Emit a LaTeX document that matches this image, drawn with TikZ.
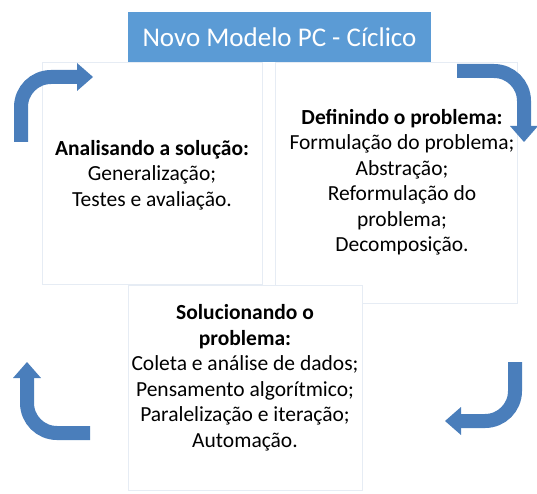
\documentclass[tikz,border=0pt]{standalone}
\usepackage{fontspec}
\setmainfont{Carlito}
\usetikzlibrary{arrows.meta}
\definecolor{titleblue}{HTML}{5B9BD5}
\definecolor{arrowblue}{HTML}{4A7EBB}
\definecolor{boxline}{HTML}{E6ECF4}
\begin{document}
\begin{tikzpicture}[x=1pt, y=-1pt,
		caixa/.style={rectangle, draw=boxline, line width=1pt, fill=white, anchor=north west, inner sep=0pt},
		texto/.style={align=center, inner sep=0pt, font=\fontsize{21.5}{25.5}\selectfont},
		seta/.style={draw=arrowblue, line width=14pt, rounded corners=30pt, -{Triangle[width=28pt, length=16pt, line width=0pt]}}]
		\useasboundingbox (0,0) rectangle (537,494);
		
		% Boxes
		\node[caixa, minimum width=220pt, minimum height=222pt] (analisa) at (42,62) {};
		\node[caixa, minimum width=242pt, minimum height=241pt] (define) at (275,62) {};
		\node[caixa, minimum width=234pt, minimum height=205pt] (soluciona) at (128,285) {};
		\node[rectangle, fill=titleblue, text=white, minimum width=303pt, minimum height=50pt, font=\fontsize{27}{30}\selectfont] (titulo) at (279.5,37) {Novo Modelo PC - Cíclico};
		
		% Texts
		\node[texto] (analisa-txt) at (152,175) {\textbf{Analisando a solução:}\\Generalização;\\Testes e avaliação.};
		\node[texto] (define-txt) at (402,182) {\textbf{Definindo o problema:}\\Formulação do problema;\\Abstração;\\Reformulação do\\problema;\\Decomposição.};
		\node[texto] (soluciona-txt) at (245,378) {\textbf{Solucionando o}\\\textbf{problema:}\\Coleta e análise de dados;\\Pensamento algorítmico;\\Paralelização e iteração;\\Automação.};
		
		% Arrows
		\coordinate (s1a) at (21,142);
		\coordinate (s1b) at (93,77);
		\coordinate (s2a) at (457,71);
		\coordinate (s2b) at (524,142);
		\coordinate (s3a) at (515,362);
		\coordinate (s3b) at (445,421);
		\coordinate (s4a) at (90,433);
		\coordinate (s4b) at (27,362);
		\draw[seta] (s1a) |- (s1b);
		\draw[seta] (s2a) -| (s2b);
		\draw[seta] (s3a) |- (s3b);
		\draw[seta] (s4a) -| (s4b);
		
	\end{tikzpicture}
\end{document}
